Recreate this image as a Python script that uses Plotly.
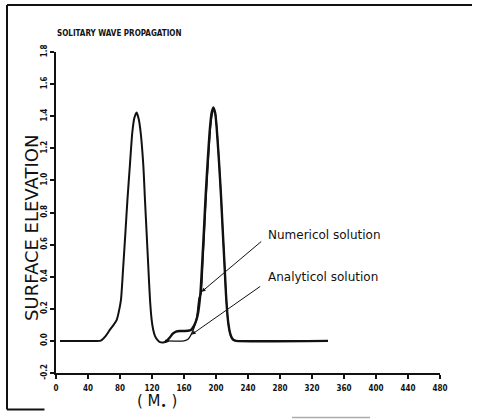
import plotly.graph_objects as go

# Wave profile at the start of the run (with the still-water line on the left)
x_initial = [5, 40, 55, 57, 62, 67.5, 72, 75.8, 78, 81.2, 84.0, 86.7, 89.3, 92.3, 95.4, 98,
             100.8, 103.5, 105.8, 109.2, 111.2, 113.3, 115.4, 117.5, 119.6, 121.5, 123.8,
             127, 130, 134, 138, 141]
y_initial = [0, 0, 0, 0.005, 0.03, 0.07, 0.10, 0.13, 0.17, 0.256, 0.46, 0.67, 0.88, 1.09, 1.30, 1.39,
             1.423, 1.38, 1.30, 1.09, 0.88, 0.67, 0.46, 0.256, 0.13, 0.07, 0.03,
             0.005, -0.008, -0.01, -0.005, 0]

# Numerical solution after propagation (trailing bump behind the crest)
x_numerical = [136, 138, 142, 146, 150, 155, 160, 165, 169, 172, 174, 177.1, 180.4, 182.9, 185,
               187.1, 189.6, 192.5, 194.5, 196.7, 199, 200.8, 203.7, 206.2, 208.3, 210.4, 212.5,
               214, 215.4, 217.5, 219.6, 222, 225, 340]
y_numerical = [0, 0, 0.02, 0.045, 0.058, 0.062, 0.062, 0.063, 0.07, 0.09, 0.11, 0.16, 0.29, 0.50, 0.70,
               0.91, 1.12, 1.33, 1.42, 1.455, 1.42, 1.33, 1.12, 0.91, 0.70, 0.50, 0.29,
               0.18, 0.11, 0.05, 0.02, 0.005, 0, 0]

# Analytical solitary wave at the same time
x_analytical = [140, 160, 165, 169, 173, 176, 179, 181.2, 183.7, 185.8, 187.9, 190.4, 193.2, 195.2,
                197.2, 199.3, 201.0, 203.8, 206.2, 208.3, 210.4, 212.4, 214, 215.3, 217.3, 219.4,
                222, 225, 340]
y_analytical = [0, 0, 0.01, 0.04, 0.09, 0.15, 0.27, 0.29, 0.50, 0.70, 0.91, 1.12, 1.33, 1.41,
                1.445, 1.41, 1.33, 1.12, 0.91, 0.70, 0.50, 0.29, 0.18, 0.11, 0.05, 0.02,
                0.005, 0, 0]

x_ticks = [0, 40, 80, 120, 160, 200, 240, 280, 320, 360, 400, 440, 480]
y_ticks = [-0.2, 0.0, 0.2, 0.4, 0.6, 0.8, 1.0, 1.2, 1.4, 1.6, 1.8]
y_tick_text = ["-0.2", "0.0", "0.2", "0.4", "0.6", "0.8", "1.0", "1.2", "1.4", "1.6", "1.8"]

INK = "#111111"
TICK_FONT = dict(family="DejaVu Sans Condensed, DejaVu Sans, sans-serif", size=8, color=INK, weight=700)

fig = go.Figure()
fig.add_trace(go.Scatter(x=x_initial, y=y_initial, mode="lines",
                         line=dict(color=INK, width=2, shape="spline", smoothing=0.6)))
fig.add_trace(go.Scatter(x=x_analytical, y=y_analytical, mode="lines",
                         line=dict(color=INK, width=1.4, shape="spline", smoothing=0.6)))
fig.add_trace(go.Scatter(x=x_numerical, y=y_numerical, mode="lines",
                         line=dict(color=INK, width=2.4, shape="spline", smoothing=0.6)))

fig.update_layout(
    width=480, height=419,
    margin=dict(l=56, r=40, t=52, b=46),
    paper_bgcolor="white", plot_bgcolor="white",
    showlegend=False,
    xaxis=dict(range=[0, 480], tickvals=x_ticks, ticks="outside", ticklen=4, tickwidth=1.5,
               tickcolor=INK, showline=True, linecolor=INK, linewidth=2, showgrid=False,
               zeroline=False, tickfont=TICK_FONT, ticklabelstandoff=2),
    yaxis=dict(range=[-0.2, 1.8], tickvals=y_ticks, ticktext=y_tick_text, ticks="outside",
               ticklen=4, tickwidth=1.5, tickcolor=INK, showline=True, linecolor=INK,
               linewidth=2, showgrid=False, zeroline=False, tickangle=-90, tickfont=TICK_FONT),
)

# Axis titles and heading
fig.add_annotation(xref="paper", yref="paper", x=-0.003, y=1.059, xanchor="left", yanchor="middle",
                   text="SOLITARY WAVE PROPAGATION", showarrow=False,
                   font=dict(family="DejaVu Sans Condensed, DejaVu Sans, sans-serif", size=8,
                             color=INK, weight=700))
fig.add_annotation(xref="paper", yref="paper", x=-0.0625, y=0.452, textangle=-90,
                   xanchor="center", yanchor="middle",
                   text="SURFACE ELEVATION", showarrow=False,
                   font=dict(family="DejaVu Sans, sans-serif", size=18, color=INK))
fig.add_annotation(xref="paper", yref="paper", x=0.263, y=-0.090,
                   xanchor="center", yanchor="middle",
                   text="( M<sub>•</sub> )", showarrow=False,
                   font=dict(family="DejaVu Sans, sans-serif", size=15, color=INK))

# Leader arrows pointing at each curve
fig.add_annotation(x=182, y=0.306, ax=258.4, ay=0.627, xref="x", yref="y", axref="x", ayref="y",
                   text="", showarrow=True, arrowhead=2, arrowsize=0.8, arrowwidth=1,
                   arrowcolor=INK)
fig.add_annotation(x=169.6, y=0.04, ax=257.1, ay=0.346, xref="x", yref="y", axref="x", ayref="y",
                   text="", showarrow=True, arrowhead=2, arrowsize=0.8, arrowwidth=1,
                   arrowcolor=INK)
fig.add_annotation(x=262.5, y=0.658, xref="x", yref="y", xanchor="left", yanchor="middle",
                   text="Numericol solution", showarrow=False,
                   font=dict(family="DejaVu Sans, sans-serif", size=12, color=INK))
fig.add_annotation(x=262.5, y=0.396, xref="x", yref="y", xanchor="left", yanchor="middle",
                   text="Analyticol solution", showarrow=False,
                   font=dict(family="DejaVu Sans, sans-serif", size=12, color=INK))

# Page frame around the figure
frame = dict(xref="paper", yref="paper", type="line")
fig.add_shape(**frame, x0=-0.1276, x1=1.0833, y0=1.1464, y1=1.1464, line=dict(color=INK, width=2))
fig.add_shape(**frame, x0=-0.1276, x1=-0.1276, y0=1.1464, y1=-0.114, line=dict(color=INK, width=2))
fig.add_shape(**frame, x0=-0.1276, x1=-0.03, y0=-0.114, y1=-0.114, line=dict(color=INK, width=2))
fig.add_shape(**frame, x0=0.6146, x1=0.8177, y0=-0.1386, y1=-0.1386, line=dict(color="#aaaaaa", width=1.5))

fig.write_html("out.html")
